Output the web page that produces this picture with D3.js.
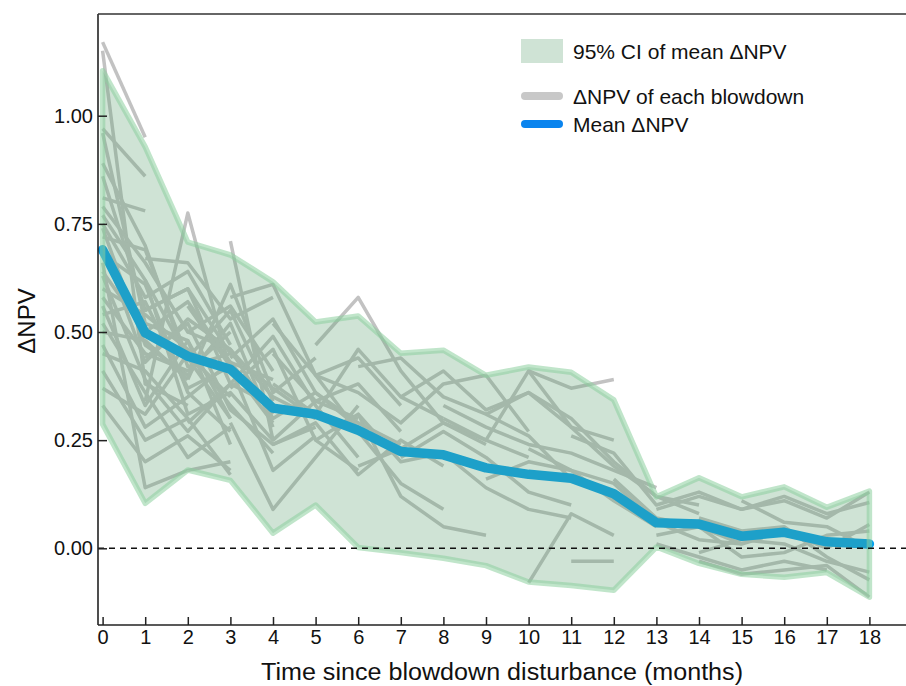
<!DOCTYPE html>
<html>
<head>
<meta charset="utf-8">
<script src="https://cdn.jsdelivr.net/npm/d3@7"></script>
<style>
  html, body { margin: 0; padding: 0; background: #ffffff; }
  svg { display: block; font-family: "Liberation Sans", Arial, Helvetica, sans-serif; }
</style>
</head>
<body>
<svg id="chart" width="906" height="686"></svg>
<script>
// ---------------- data ----------------
const months = [0, 1, 2, 3, 4, 5, 6, 7, 8, 9, 10, 11, 12, 13, 14, 15, 16, 17, 18];
const xTickLabels = [0, 1, 2, 3, 4, 5, 6, 7, 8, 9, 10, 11, 12, 13, 14, 15, 16, 17, 18];
const yTickValues = [0, 0.25, 0.5, 0.75, 1.0];

const meanNPV = [0.690, 0.498, 0.444, 0.414, 0.324, 0.310, 0.273, 0.224, 0.216, 0.186, 0.171, 0.162, 0.126,
                 0.059, 0.056, 0.028, 0.037, 0.015, 0.010];
const ciUpper = [1.104, 0.928, 0.708, 0.678, 0.616, 0.523, 0.537, 0.451, 0.458, 0.400, 0.419, 0.407, 0.343,
                 0.119, 0.163, 0.119, 0.142, 0.095, 0.132];
const ciLower = [0.287, 0.104, 0.181, 0.157, 0.035, 0.100, 0.002, -0.010, -0.023, -0.040, -0.078, -0.086, -0.097,
                 0.003, -0.035, -0.060, -0.067, -0.056, -0.113];

// each blowdown: first month observed, then its monthly ΔNPV values
const blowdownStart = [
  0, 0, 0, 0, 0, 0, 0, 0, 0, 0, 0, 0, 0, 0, 0, 0, 0, 0, 0, 0, 0, 0, 0, 0, 0, 0, 0, 0,
  1, 1, 1, 1, 1,
  2, 2, 2, 2,
  3, 3, 3, 3, 3,
  4, 4, 4, 4,
  5, 5, 5,
  6, 6, 6,
  7, 7,
  8, 8,
  9, 9,
  10, 10, 10,
  11, 11,
  12,
  13, 13, 13,
  14, 14, 14,
  15
];
const blowdownValues = [
  [1.17, 0.95],
  [1.15, 0.38, 0.33],
  [0.97, 0.86],
  [0.96, 0.52, 0.48, 0.30],
  [0.89, 0.70, 0.42, 0.45],
  [0.86, 0.55, 0.60, 0.38, 0.33],
  [0.81, 0.78],
  [0.79, 0.66, 0.50, 0.56, 0.41],
  [0.77, 0.62, 0.31, 0.36, 0.25],
  [0.75, 0.58, 0.64, 0.47],
  [0.74, 0.47, 0.40, 0.52, 0.28],
  [0.72, 0.69, 0.44, 0.30],
  [0.70, 0.43, 0.53, 0.46, 0.35, 0.30],
  [0.68, 0.61, 0.36, 0.27],
  [0.66, 0.14, 0.18, 0.20],
  [0.64, 0.50, 0.57, 0.43, 0.39],
  [0.63, 0.39, 0.27, 0.38],
  [0.60, 0.54, 0.46, 0.33, 0.22],
  [0.58, 0.45, 0.41, 0.50],
  [0.56, 0.33, 0.48, 0.24],
  [0.54, 0.57, 0.37, 0.42, 0.29],
  [0.52, 0.36, 0.21, 0.28],
  [0.50, 0.48, 0.39],
  [0.47, 0.28, 0.35, 0.43, 0.31],
  [0.45, 0.41, 0.30, 0.17],
  [0.41, 0.25, 0.30],
  [0.37, 0.31, 0.45, 0.35],
  [0.33, 0.20, 0.26, 0.18],
  [0.34, 0.775, 0.41],
  [0.67, 0.66, 0.53, 0.58],
  [0.55, 0.60, 0.45, 0.37, 0.30],
  [0.44, 0.52, 0.32, 0.24, 0.28],
  [0.62, 0.44, 0.55, 0.34],
  [0.50, 0.46, 0.30, 0.36, 0.28],
  [0.39, 0.61, 0.36, 0.44],
  [0.29, 0.38, 0.49, 0.33, 0.21],
  [0.56, 0.42, 0.18, 0.26],
  [0.71, 0.25, 0.34, 0.30],
  [0.58, 0.61, 0.40, 0.44, 0.33],
  [0.44, 0.53, 0.36, 0.29, 0.24],
  [0.29, 0.09, 0.21, 0.33],
  [0.37, 0.46, 0.25, 0.18],
  [0.52, 0.40, 0.27, 0.15, 0.09],
  [0.38, 0.31, 0.46, 0.35, 0.30],
  [0.24, 0.29, 0.17, 0.25, 0.19],
  [0.45, 0.34, 0.38, 0.27],
  [0.47, 0.58, 0.41, 0.29, 0.24],
  [0.25, 0.31, 0.12, 0.05, 0.03],
  [0.40, 0.36, 0.29, 0.38, 0.40, 0.27],
  [0.42, 0.44, 0.35, 0.31, 0.26, 0.16],
  [0.19, 0.23, 0.29, 0.25, 0.21],
  [0.31, 0.20, 0.22, 0.14, 0.09, 0.07],
  [0.35, 0.41, 0.32, 0.36, 0.28, 0.25],
  [0.21, 0.27, 0.21, 0.13, 0.10],
  [0.30, 0.25, 0.41, 0.37, 0.39],
  [0.33, 0.28, 0.24, 0.22, 0.18, 0.14],
  [0.31, 0.36, 0.30, 0.20, 0.12, 0.08],
  [0.16, 0.20, 0.18, 0.11, 0.05],
  [0.41, 0.28, 0.19, 0.12, 0.10],
  [-0.08, 0.08, 0.03],
  [0.23, 0.18, 0.15, 0.06, 0.02, 0.01],
  [-0.03, -0.03],
  [0.26, 0.22, 0.10, 0.13, 0.09, 0.12, 0.08, 0.106],
  [0.16, 0.07, 0.05, 0.01, 0.04, 0.00, 0.055],
  [0.09, 0.12, 0.09, 0.11, 0.07, 0.13],
  [0.03, 0.05, -0.02, -0.01, 0.03, 0.04],
  [0.01, -0.02, -0.05, -0.03, -0.05],
  [-0.01, 0.02, 0.01, -0.03, -0.055],
  [-0.03, -0.06, -0.05, -0.04, -0.113],
  [0.07, 0.04, 0.05, -0.02, -0.073],
  [0.11, 0.06, 0.05, 0.00]
];

const legendLabels = ["95% CI of mean \u0394NPV", "\u0394NPV of each blowdown", "Mean \u0394NPV"];
const yAxisTitle = "\u0394NPV";
const xAxisTitle = "Time since blowdown disturbance (months)";

// ---------------- chart ----------------
const svg = d3.select("#chart");
const W = 906, H = 686;
const frame = { left: 98, top: 14, bottom: 625, right: 906 };

const x = d3.scaleLinear().domain([0, 18]).range([102.6, 869.4]);
const y = d3.scaleLinear().domain([0, 1]).range([548.3, 115.7]);

svg.append("rect").attr("width", W).attr("height", H).attr("fill", "#ffffff");

const lineGen = d3.line().x(d => x(d[0])).y(d => y(d[1]));

// individual blowdowns
const gLines = svg.append("g");
blowdownValues.forEach((vals, i) => {
  const pts = vals.map((v, j) => [blowdownStart[i] + j, v]);
  gLines.append("path")
    .attr("d", lineGen(pts))
    .attr("fill", "none")
    .attr("stroke", "#c2c2c2")
    .attr("stroke-width", 3.5)
    .attr("stroke-linejoin", "round");
});

// mean line (drawn below the CI band)
const meanPts = months.map((m, i) => [m, meanNPV[i]]);
svg.append("path")
  .attr("d", lineGen(meanPts))
  .attr("fill", "none")
  .attr("stroke", "#00a0ee")
  .attr("stroke-width", 9.5)
  .attr("stroke-linecap", "round")
  .attr("stroke-linejoin", "round");

// CI band
const area = d3.area().x((d, i) => x(months[i])).y0((d, i) => y(ciLower[i])).y1((d, i) => y(ciUpper[i]));
svg.append("path")
  .attr("d", area(months))
  .attr("fill", "rgb(95,162,115)")
  .attr("fill-opacity", 0.3)
  .attr("stroke", "rgb(140,208,158)")
  .attr("stroke-opacity", 0.55)
  .attr("stroke-width", 5.5)
  .attr("stroke-linejoin", "round");

// zero line
svg.append("line")
  .attr("x1", frame.left).attr("x2", frame.right)
  .attr("y1", y(0)).attr("y2", y(0))
  .attr("stroke", "#111").attr("stroke-width", 1.5)
  .attr("stroke-dasharray", "6,5");

// axes
const yAxis = d3.axisLeft(y).tickValues(yTickValues).tickFormat(d3.format(".2f"))
  .tickSizeInner(-9).tickSizeOuter(0).tickPadding(5);
const gy = svg.append("g").attr("transform", `translate(${frame.left},0)`).call(yAxis);
gy.select(".domain").remove();
gy.selectAll(".tick line").attr("stroke", "#222").attr("stroke-width", 1.5);
gy.selectAll(".tick text").attr("font-size", 20).attr("fill", "#111")
  .attr("font-family", "'Liberation Sans', Arial, sans-serif");

const xAxis = d3.axisBottom(x).tickValues(xTickLabels).tickFormat(d3.format("d"))
  .tickSizeInner(-8).tickSizeOuter(0).tickPadding(5);
const gx = svg.append("g").attr("transform", `translate(0,${frame.bottom})`).call(xAxis);
gx.select(".domain").remove();
gx.selectAll(".tick line").attr("stroke", "#222").attr("stroke-width", 1.5);
gx.selectAll(".tick text").attr("font-size", 20).attr("fill", "#111")
  .attr("font-family", "'Liberation Sans', Arial, sans-serif");

// frame lines
svg.append("line").attr("x1", frame.left).attr("x2", frame.left).attr("y1", frame.top).attr("y2", frame.bottom)
  .attr("stroke", "#222").attr("stroke-width", 1.6);
svg.append("line").attr("x1", frame.left).attr("x2", frame.right).attr("y1", frame.bottom).attr("y2", frame.bottom)
  .attr("stroke", "#222").attr("stroke-width", 1.6);
svg.append("line").attr("x1", frame.left).attr("x2", frame.right).attr("y1", frame.top).attr("y2", frame.top)
  .attr("stroke", "#333").attr("stroke-width", 1.4);

// axis titles
svg.append("text")
  .attr("x", 502).attr("y", 680)
  .attr("text-anchor", "middle")
  .attr("font-size", 23)
  .attr("fill", "#111")
  .attr("textLength", 482)
  .attr("lengthAdjust", "spacingAndGlyphs")
  .text(xAxisTitle);

svg.append("text")
  .attr("transform", "translate(35,321) rotate(-90)")
  .attr("text-anchor", "middle")
  .attr("font-size", 24)
  .attr("fill", "#111")
  .text(yAxisTitle);

// legend
const lg = svg.append("g");
lg.append("rect").attr("x", 521).attr("y", 39).attr("width", 42).attr("height", 24)
  .attr("fill", "rgb(95,162,115)").attr("fill-opacity", 0.3);
lg.append("line").attr("x1", 525).attr("x2", 559).attr("y1", 96).attr("y2", 96)
  .attr("stroke", "#c8c8c8").attr("stroke-width", 8).attr("stroke-linecap", "round");
lg.append("line").attr("x1", 525).attr("x2", 559).attr("y1", 124).attr("y2", 124)
  .attr("stroke", "#0a84ee").attr("stroke-width", 8).attr("stroke-linecap", "round");
const legendY = [58.5, 103.5, 131.5];
legendLabels.forEach((t, i) => {
  lg.append("text").attr("x", 573).attr("y", legendY[i])
    .attr("font-size", 21).attr("fill", "#111").text(t);
});
</script>
</body>
</html>
